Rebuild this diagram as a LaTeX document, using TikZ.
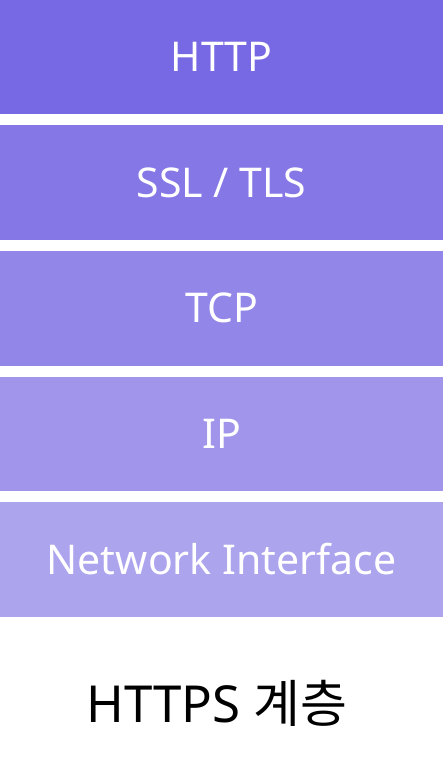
\documentclass[tikz,border=0pt]{standalone}
\usepackage{fontspec}
\setmainfont{Noto Sans}
\newfontfamily\krfont{Noto Sans CJK KR}
\usetikzlibrary{positioning}
\definecolor{layerbase}{RGB}{119,104,227}
\colorlet{httpviolet}{layerbase}
\colorlet{sslviolet}{layerbase!90!white}
\colorlet{tcpviolet}{layerbase!80!white}
\colorlet{ipviolet}{layerbase!70!white}
\colorlet{netviolet}{layerbase!60!white}

\begin{document}
\begin{tikzpicture}[
  x=1pt, y=-1pt,
  node distance = 11pt,
  %
  % ── Node styles ─────────────────────────────────────────────────
  layer/.style = {rectangle, inner sep=0pt, outer sep=0pt, text=white,
                  minimum width=443pt, minimum height=114.5pt,
                  font=\fontsize{41}{44}\selectfont},
  caption/.style = {text=black, outer sep=0pt,
                    font=\fontsize{51}{56}\selectfont},
]

%% ═══════════════════════════════════════════════════════════════════
%% Frame — fixes the page to the reference's size
%% ═══════════════════════════════════════════════════════════════════
\useasboundingbox (0,0) rectangle (443,767);

%% ═══════════════════════════════════════════════════════════════════
%% Layer stack, top to bottom
%% ═══════════════════════════════════════════════════════════════════
\node[layer, fill=httpviolet, anchor=north west] (http) at (0,0) {HTTP};
\node[layer, fill=sslviolet, below=of http] (ssl) {SSL / TLS};
\node[layer, fill=tcpviolet, below=of ssl]  (tcp) {TCP};
\node[layer, fill=ipviolet, below=of tcp]   (ip)  {IP};
\node[layer, fill=netviolet, below=of ip]   (net) {Network Interface};

%% ── Caption ──────────────────────────────────────────────────────
\node[caption] (title) at (217,703) {HTTPS {\krfont 계층}};

\end{tikzpicture}
\end{document}
